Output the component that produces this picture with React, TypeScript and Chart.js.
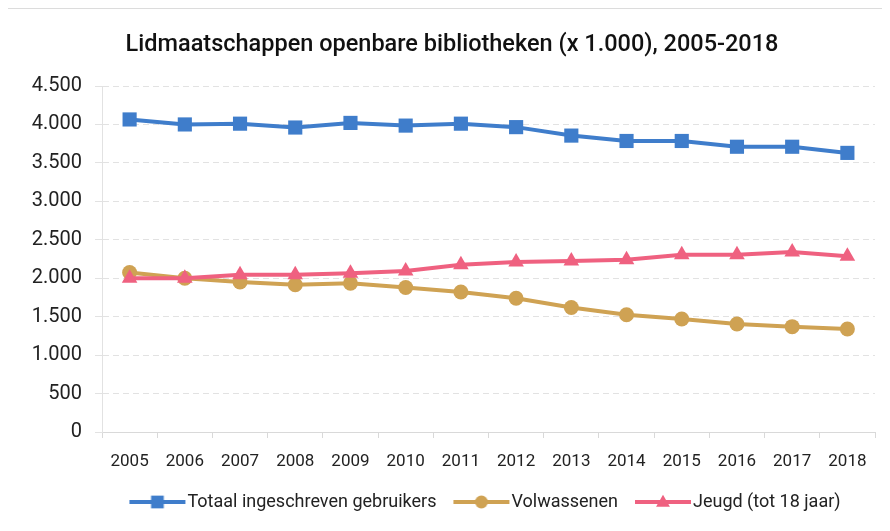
import React, { useEffect, useRef } from "react";
import { Chart, registerables } from "chart.js";

Chart.register(...registerables);

const years = ["2005", "2006", "2007", "2008", "2009", "2010", "2011", "2012", "2013", "2014", "2015", "2016", "2017", "2018"];
const totaal = [4065, 4000, 4010, 3960, 4020, 3985, 4010, 3965, 3855, 3785, 3785, 3710, 3710, 3630];
const volwassenen = [2075, 2000, 1950, 1915, 1935, 1880, 1820, 1740, 1620, 1525, 1470, 1405, 1370, 1340];
const jeugd = [2000, 2000, 2045, 2045, 2065, 2095, 2175, 2210, 2225, 2240, 2305, 2305, 2340, 2285];
const seriesNames = ["Totaal ingeschreven gebruikers", "Volwassenen", "Jeugd (tot 18 jaar)"];
const titleText = "Lidmaatschappen openbare bibliotheken (x 1.000), 2005-2018";

const BLUE = "#3f7dcb";
const GOLD = "#cfa253";
const PINK = "#ef6180";

function legendIcon(color: string, style: string, r: number): HTMLCanvasElement {
  const c = document.createElement("canvas");
  c.width = 58;
  c.height = 18;
  const ctx = c.getContext("2d")!;
  ctx.strokeStyle = color;
  ctx.lineWidth = 4;
  ctx.beginPath();
  ctx.moveTo(1, 9);
  ctx.lineTo(57, 9);
  ctx.stroke();
  ctx.fillStyle = color;
  ctx.beginPath();
  if (style === "rect") {
    const s = r * Math.SQRT1_2;
    ctx.rect(29 - s, 9 - s, 2 * s, 2 * s);
  } else if (style === "circle") {
    ctx.arc(29, 9, r, 0, Math.PI * 2);
  } else {
    const h = r * 1.5;
    const w = r * Math.sqrt(3);
    ctx.moveTo(29, 9 - r * 0.9);
    ctx.lineTo(29 + w / 2, 9 - r * 0.9 + h);
    ctx.lineTo(29 - w / 2, 9 - r * 0.9 + h);
    ctx.closePath();
  }
  ctx.fill();
  return c;
}

export default function App() {
  const ref = useRef<HTMLCanvasElement | null>(null);
  useEffect(() => {
    if (!ref.current) return;
    const icons = [
      legendIcon(BLUE, "rect", 9),
      legendIcon(GOLD, "circle", 6.5),
      legendIcon(PINK, "triangle", 8),
    ];
    const font = "Roboto, 'DejaVu Sans', sans-serif";
    const chart = new Chart(ref.current, {
      type: "line",
      data: {
        labels: years,
        datasets: [
          {
            label: seriesNames[0],
            data: totaal,
            borderColor: BLUE,
            backgroundColor: BLUE,
            borderWidth: 4,
            pointStyle: "rect",
            pointRadius: 10,
            pointBorderWidth: 0,
            order: 0,
          },
          {
            label: seriesNames[1],
            data: volwassenen,
            borderColor: GOLD,
            backgroundColor: GOLD,
            borderWidth: 4,
            pointStyle: "circle",
            pointRadius: 7.5,
            pointBorderWidth: 0,
            order: 2,
          },
          {
            label: seriesNames[2],
            data: jeugd,
            borderColor: PINK,
            backgroundColor: PINK,
            borderWidth: 4,
            pointStyle: "triangle",
            pointRadius: 9,
            pointBorderWidth: 0,
            order: 1,
          },
        ],
      },
      options: {
        responsive: false,
        animation: false,
        layout: { padding: { left: 22, right: 13, top: 0, bottom: 2 } },
        scales: {
          x: {
            offset: true,
            grid: {
              offset: true,
              drawOnChartArea: false,
              drawTicks: true,
              tickLength: 6,
              color: "#d9d9d9",
            },
            border: { display: true, color: "#d9d9d9", width: 1 },
            ticks: { color: "#222", font: { family: font, size: 17 }, padding: 14, maxRotation: 0 },
            afterFit: (s: any) => {
              s.height = 37;
            },
          },
          y: {
            min: 0,
            max: 4500,
            grid: {
              color: "#e2e2e2",
              tickLength: 7,
            },
            border: { display: true, color: "#e2e2e2", dash: [6, 4] },
            ticks: {
              stepSize: 500,
              color: "#222",
              font: { family: font, size: 20 },
              padding: 13,
              callback: (v: any) => Number(v).toLocaleString("nl-NL"),
            },
            afterFit: (s: any) => {
              s.width = 73;
            },
          },
        },
        plugins: {
          title: {
            display: true,
            text: titleText,
            color: "#111",
            font: { family: font, size: 23.5, weight: "500" },
            padding: { top: 21.9, bottom: 26.9 },
          },
          legend: {
            position: "bottom",
            fullSize: false,
            labels: {
              usePointStyle: true,
              pointStyleWidth: 42,
              padding: 24,
              color: "#222",
              font: { family: font, size: 18 },
              sort: (a: any, b: any) => a.datasetIndex - b.datasetIndex,
              generateLabels: (ch: any) => {
                const items = Chart.defaults.plugins.legend.labels.generateLabels(ch);
                return items.map((it: any) => ({ ...it, pointStyle: icons[it.datasetIndex], lineWidth: 0 }));
              },
            },
          },
          tooltip: { enabled: false },
        },
      },
    });
    return () => chart.destroy();
  }, []);
  return (
    <div
      style={{
        marginLeft: -2,
        width: 882,
        height: 515,
        boxSizing: "border-box",
        borderTop: "1px solid #dcdcdc",
        borderLeft: "1px solid #dcdcdc",
        background: "#fff",
      }}
    >
      <canvas ref={ref} width={881} height={514} style={{ display: "block" }} />
    </div>
  );
}
